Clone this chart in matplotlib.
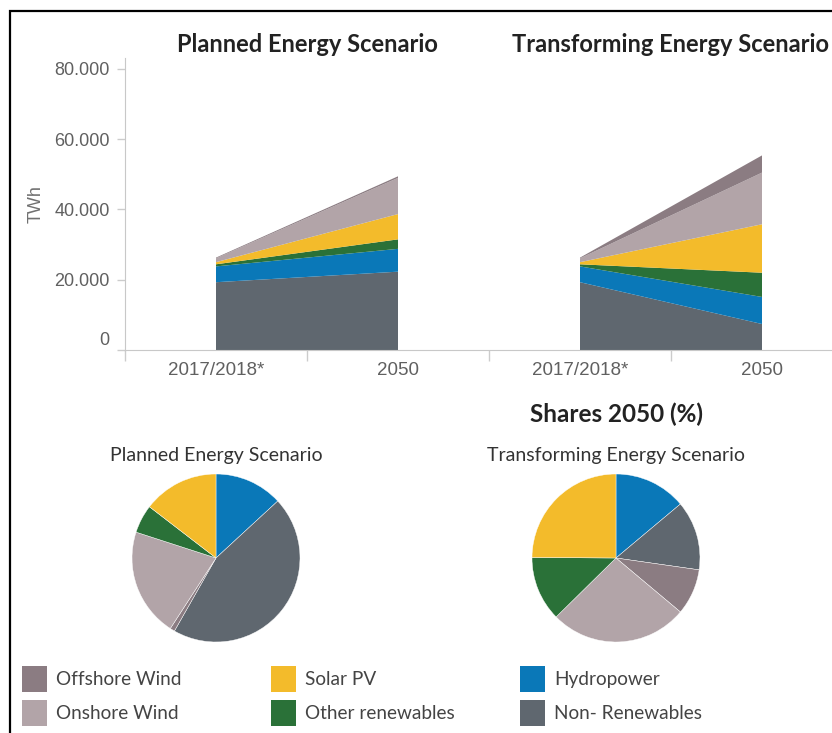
import numpy as np
import matplotlib.pyplot as plt
from matplotlib.patches import Patch, Rectangle
from matplotlib.transforms import blended_transform_factory, ScaledTranslation

# generation by source, TWh (stack order bottom -> top)
sources = ['Non- Renewables', 'Hydropower', 'Other renewables', 'Solar PV', 'Onshore Wind', 'Offshore Wind']
colors = ['#5f676f', '#0a78b8', '#2a7138', '#f3bb2b', '#b2a4a8', '#8b7c82']

years = ['2017/2018*', '2050', '2017/2018*', '2050']
scenarios = ['Planned Energy Scenario', 'Transforming Energy Scenario']

base_2017 = [19300, 4500, 600, 600, 1100, 200]
planned_2050 = [22300, 6500, 2700, 7200, 10300, 450]
transforming_2050 = [7400, 7700, 6900, 13800, 14700, 4900]

# pie order (clockwise from the top)
pie_order = ['Hydropower', 'Non- Renewables', 'Offshore Wind', 'Onshore Wind', 'Other renewables', 'Solar PV']

# legend layout: columns of two
legend_cols = [['Offshore Wind', 'Onshore Wind'], ['Solar PV', 'Other renewables'], ['Hydropower', 'Non- Renewables']]

W, H = 832, 733
fig = plt.figure(figsize=(W / 100, H / 100), dpi=100)
plt.rcParams['font.family'] = ['Liberation Sans', 'DejaVu Sans']

def fx(px):
    return px / W

def fy(px):
    return (H - px) / H

# ---- stacked area chart ----
ax = fig.add_axes([fx(125), fy(350), fx(853) - fx(125), fy(58) - fy(350)])
ymax = 80000 + 11 * 284.6
ax.stackplot([0, 1], np.array([base_2017, planned_2050]).T, colors=colors, lw=0)
ax.stackplot([2, 3], np.array([base_2017, transforming_2050]).T, colors=colors, lw=0)
ax.set_xlim(-0.5, 3.5)
ax.set_ylim(0, ymax)
ax.set_yticks([0, 20000, 40000, 60000, 80000])
ax.set_yticklabels(['0', '20.000', '40.000', '60.000', '80.000'])
ax.set_xticks(range(4))
ax.set_xticklabels(years)
ax.set_xticks([-0.5, 0.5, 1.5, 2.5, 3.5], minor=True)
ax.tick_params(axis='x', which='major', length=0, pad=9, labelsize=13.5, labelcolor='#606060')
ax.tick_params(axis='x', which='minor', length=8, color='#cccccc', width=1)
ax.tick_params(axis='y', length=6, color='#cccccc', width=1, pad=5, labelsize=13, labelcolor='#606060')
# zero label sits a little above the baseline
zero = ax.get_yticklabels()[0]
zero.set_transform(zero.get_transform() + ScaledTranslation(0, 11 / 100, fig.dpi_scale_trans))
for s in ['top', 'right']:
    ax.spines[s].set_visible(False)
for s in ['left', 'bottom']:
    ax.spines[s].set_color('#c8c8c8')
ax.set_ylabel('TWh', fontsize=13, color='#707070', labelpad=7)

tr = blended_transform_factory(ax.transData, fig.transFigure)
for xc, name in zip([0.5, 2.5], scenarios):
    ax.text(xc, fy(44), name, transform=tr, ha='center', va='center',
            fontsize=17, fontweight='bold', family='Lato', color='#222222')

# ---- pies of 2050 shares ----
fig.text(fx(616), fy(414), 'Shares 2050 (%)', ha='center', va='center',
         fontsize=17.5, fontweight='bold', family='Lato', color='#222222')

r = 84
for cx, name, vals in [(216, scenarios[0], planned_2050), (616, scenarios[1], transforming_2050)]:
    pax = fig.add_axes([fx(cx - r), fy(558 + r), fx(2 * r), 2 * r / H])
    lookup = dict(zip(sources, vals))
    cmap = dict(zip(sources, colors))
    pax.pie([lookup[s] for s in pie_order], colors=[cmap[s] for s in pie_order],
            startangle=90, counterclock=False, radius=1.0,
            wedgeprops=dict(lw=0.3, edgecolor='white'))
    pax.set_xlim(-1, 1)
    pax.set_ylim(-1, 1)
    pax.set_aspect('auto')
    pax.axis('off')
    fig.text(fx(cx), fy(456), name, ha='center', va='center',
             fontsize=14, family='Lato', color='#333333')

# ---- legend ----
cmap = dict(zip(sources, colors))
for x0, col in zip([22, 271, 520], legend_cols):
    handles = [Patch(facecolor=cmap[s], edgecolor='none') for s in col]
    fig.legend(handles, col, loc='upper left', bbox_to_anchor=(fx(x0), fy(666)),
               frameon=False, borderaxespad=0, borderpad=0,
               handlelength=1.3, handleheight=1.75, handletextpad=0.5,
               labelspacing=0.4, prop={'family': 'Lato', 'size': 13.7},
               labelcolor='#444444')

# outer frame
fig.add_artist(Rectangle((fx(10), -0.2), 1.3, fy(11) + 0.2, fill=False,
                         lw=1.6, edgecolor='black', transform=fig.transFigure))

fig.savefig('out.png', dpi=100)
